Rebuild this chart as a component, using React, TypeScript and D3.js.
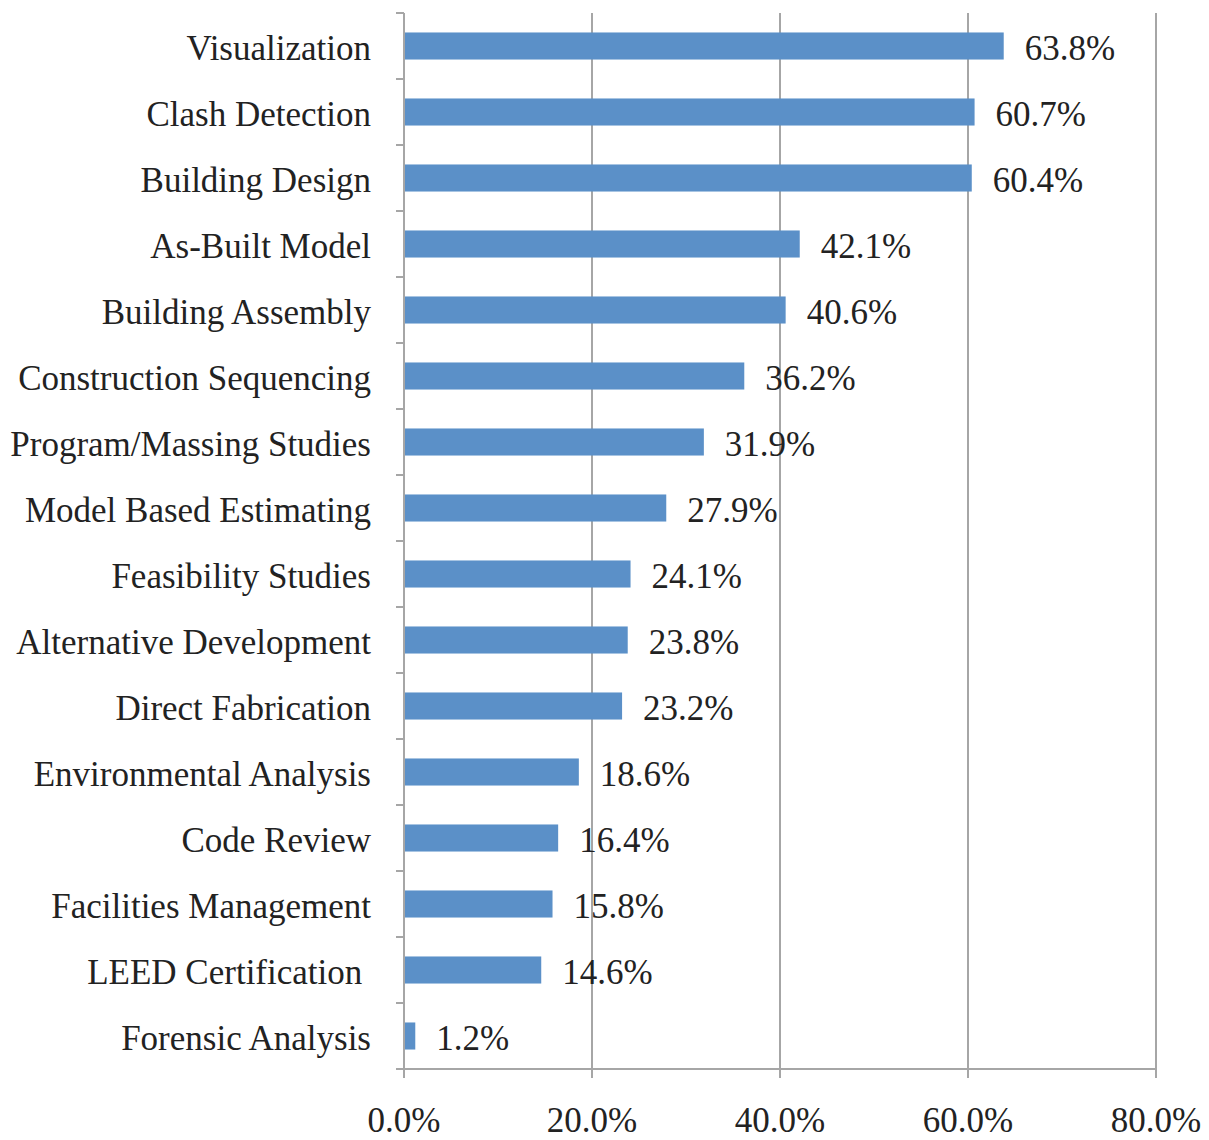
import React from "react";
import * as d3 from "d3";

const categories = [
  "Visualization",
  "Clash Detection",
  "Building Design",
  "As-Built Model",
  "Building Assembly",
  "Construction Sequencing",
  "Program/Massing Studies",
  "Model Based Estimating",
  "Feasibility Studies",
  "Alternative Development",
  "Direct Fabrication",
  "Environmental Analysis",
  "Code Review",
  "Facilities Management",
  "LEED Certification ",
  "Forensic Analysis",
];
const values = [63.8, 60.7, 60.4, 42.1, 40.6, 36.2, 31.9, 27.9, 24.1, 23.8, 23.2, 18.6, 16.4, 15.8, 14.6, 1.2];
const xTicks = [0, 20, 40, 60, 80];

export default function App() {
  const W = 1209, H = 1140;
  const left = 404, right = 1156, top = 13, bottom = 1069;
  const x = d3.scaleLinear().domain([0, 80]).range([left, right]);
  const y = d3.scaleBand<string>().domain(categories).range([top, bottom]).paddingInner(0.59).paddingOuter(0.295);
  const yb = d3.scaleBand<string>().domain(categories).range([top, bottom]);
  const font = "'Liberation Serif', 'Times New Roman', serif";
  const grid = "#a6a6a6";
  const fs = 35;
  return (
    <svg width={W} height={H} style={{ position: "absolute", left: 0, top: 0, background: "#fff" }} fontFamily={font}>
      {xTicks.map((t) => (
        <g key={t}>
          {t > 0 && <line x1={x(t)} x2={x(t)} y1={top} y2={bottom + 9} stroke={grid} strokeWidth={2} />}
          <line x1={x(t)} x2={x(t)} y1={bottom} y2={bottom + 9} stroke={grid} strokeWidth={2} />
          <text x={x(t)} y={1132} textAnchor="middle" fontSize={fs} fill="#222">
            {t.toFixed(1)}%
          </text>
        </g>
      ))}
      {categories.map((c, i) => (
        <g key={c}>
          <rect x={x(0)} y={y(c)!} width={x(values[i]) - x(0)} height={y.bandwidth()} fill="#5b90c8" />
          <text x={371} y={yb(c)! + yb.bandwidth() / 2 + 2} dy="0.35em" textAnchor="end" fontSize={fs} fill="#222" style={{ whiteSpace: "pre" }}>
            {c}
          </text>
          <text x={x(values[i]) + 21} y={yb(c)! + yb.bandwidth() / 2 + 2} dy="0.35em" fontSize={fs} fill="#222">
            {values[i].toFixed(1)}%
          </text>
        </g>
      ))}
      {d3.range(categories.length + 1).map((i) => {
        const yy = top + i * yb.step();
        return <line key={i} x1={left - 8} x2={left} y1={yy} y2={yy} stroke={grid} strokeWidth={2} />;
      })}
      <line x1={left} x2={left} y1={top} y2={bottom + 9} stroke={grid} strokeWidth={2} />
      <line x1={left - 8} x2={right} y1={bottom} y2={bottom} stroke={grid} strokeWidth={2} />
    </svg>
  );
}
